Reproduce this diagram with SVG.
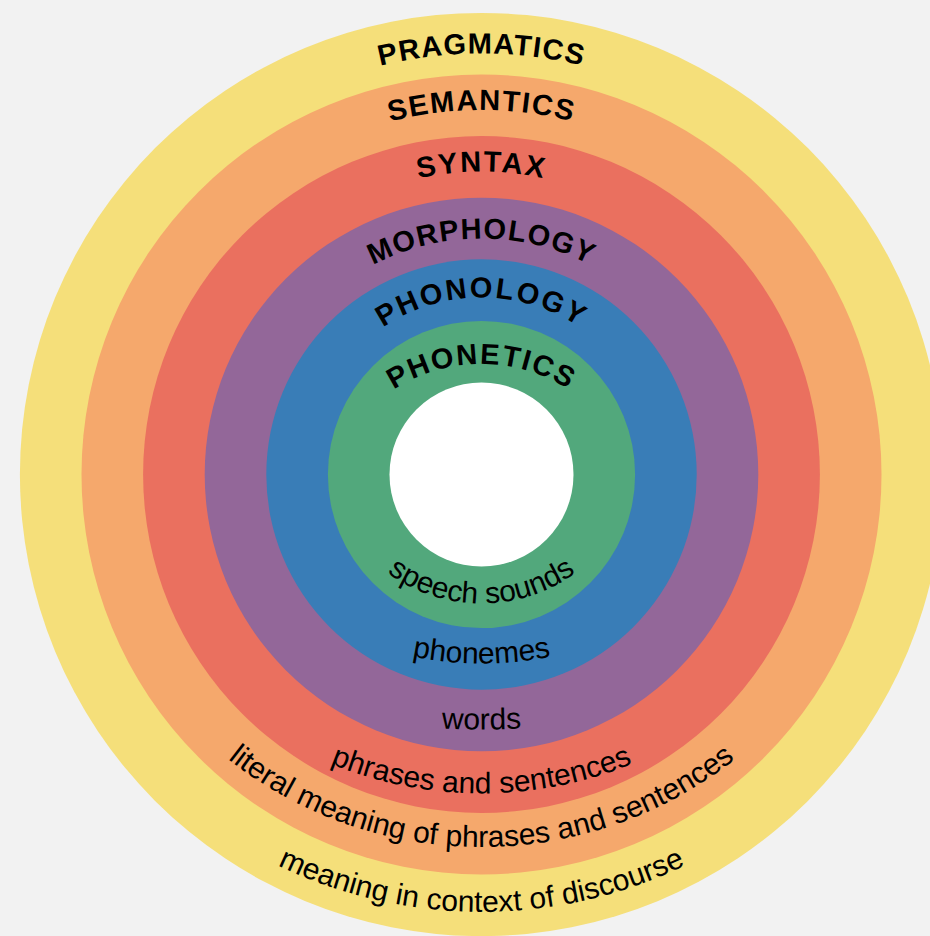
<svg xmlns="http://www.w3.org/2000/svg" xmlns:xlink="http://www.w3.org/1999/xlink" width="930" height="936" viewBox="0 0 930 936">
<style>
.top{font-family:"Liberation Sans",Arial,sans-serif;font-weight:bold;font-size:29px;fill:#000;text-anchor:middle}
.bot{font-family:"Liberation Sans",Arial,sans-serif;font-size:30px;fill:#000;text-anchor:middle}
</style>
<defs>
<path id="pPrag" d="M60.5,474.5 A421,421 0 0 1 902.5,474.5"/>
<path id="pSem" d="M117,474.5 A364.5,364.5 0 0 1 846,474.5"/>
<path id="pSyn" d="M191.5,461.5 A290,290 0 0 1 771.5,461.5"/>
<path id="pMor" d="M245.5,474.5 A236,236 0 0 1 717.5,474.5"/>
<path id="pPhl" d="M304.5,474.5 A177,177 0 0 1 658.5,474.5"/>
<path id="pPht" d="M319.5,526 A162,162 0 0 1 643.5,526"/>
<path id="bSp" d="M321.5,443.5 A160,160 0 0 0 641.5,443.5"/>
<path id="bPh" d="M131.5,313.5 A350,350 0 0 0 831.5,313.5"/>
<path id="bWo" d="M-218.5,29.5 A700,700 0 0 0 1181.5,29.5"/>
<path id="bPs" d="M81.5,393.5 A400,400 0 0 0 881.5,393.5"/>
<path id="bLi" d="M71.5,437 A410,410 0 0 0 891.5,437"/>
<path id="bMe" d="M11.5,442 A470,470 0 0 0 951.5,442"/>
</defs>
<rect width="930" height="936" fill="#f2f2f2"/>
<g id="pragmatics">
<circle cx="481.5" cy="474.5" r="461.6" fill="#f5df7a"/>
<text class="top" letter-spacing="1.2"><textPath xlink:href="#pPrag" href="#pPrag" startOffset="50%">PRAGMATICS</textPath></text>
<text class="bot"><textPath xlink:href="#bMe" href="#bMe" startOffset="50%">meaning in context of discourse</textPath></text>
</g>
<g id="semantics">
<circle cx="481.5" cy="474.5" r="400" fill="#f5a86c"/>
<text class="top" letter-spacing="1.6"><textPath xlink:href="#pSem" href="#pSem" startOffset="50%">SEMANTICS</textPath></text>
<text class="bot"><textPath xlink:href="#bLi" href="#bLi" startOffset="50%">literal meaning of phrases and sentences</textPath></text>
</g>
<g id="syntax">
<circle cx="481.5" cy="474.5" r="338.4" fill="#ea705f"/>
<text class="top" letter-spacing="2"><textPath xlink:href="#pSyn" href="#pSyn" startOffset="50%">SYNTAX</textPath></text>
<text class="bot"><textPath xlink:href="#bPs" href="#bPs" startOffset="50%">phrases and sentences</textPath></text>
</g>
<g id="morphology">
<circle cx="481.5" cy="474.5" r="276.8" fill="#936799"/>
<text class="top" letter-spacing="1.3"><textPath xlink:href="#pMor" href="#pMor" startOffset="50%">MORPHOLOGY</textPath></text>
<text class="bot" font-size="29"><textPath xlink:href="#bWo" href="#bWo" startOffset="50%">words</textPath></text>
</g>
<g id="phonology">
<circle cx="481.5" cy="474.5" r="215.2" fill="#397db7"/>
<text class="top" letter-spacing="2.3"><textPath xlink:href="#pPhl" href="#pPhl" startOffset="50%">PHONOLOGY</textPath></text>
<text class="bot" font-size="28.5"><textPath xlink:href="#bPh" href="#bPh" startOffset="50%">phonemes</textPath></text>
</g>
<g id="phonetics">
<circle cx="481.5" cy="474.5" r="153.6" fill="#52a87c"/>
<text class="top" font-size="30" letter-spacing="1.8"><textPath xlink:href="#pPht" href="#pPht" startOffset="50%">PHONETICS</textPath></text>
<text class="bot" font-size="27"><textPath xlink:href="#bSp" href="#bSp" startOffset="50%">speech sounds</textPath></text>
</g>
<g id="core">
<circle cx="481.5" cy="474.5" r="92" fill="#ffffff"/>
</g>
</svg>
